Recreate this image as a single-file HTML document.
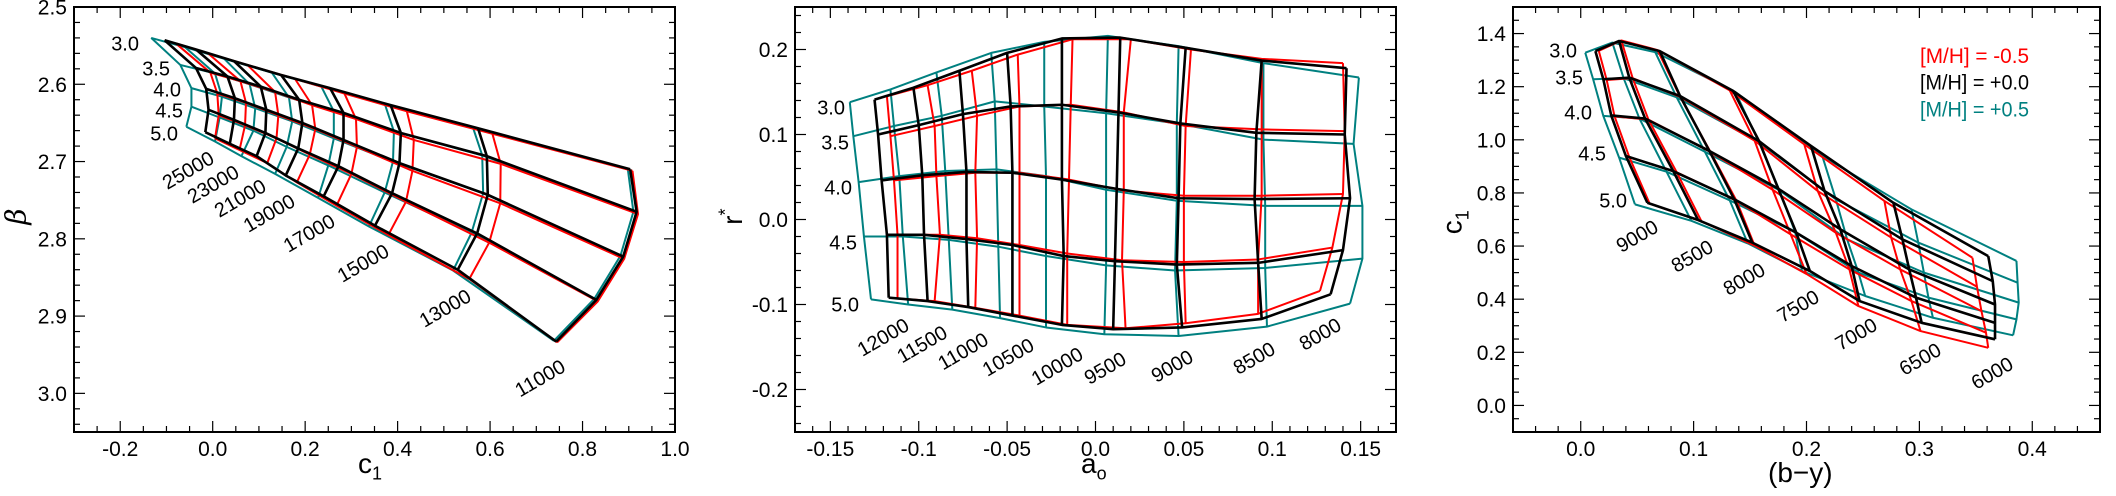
<!DOCTYPE html>
<html><head><meta charset="utf-8"><style>
html,body{margin:0;padding:0;background:#fff;}
svg{display:block;font-family:"Liberation Sans",sans-serif;}
</style></head><body>
<svg id="chart" width="2116" height="496" viewBox="0 0 2116 496" xmlns="http://www.w3.org/2000/svg"></svg>
<script>
// ---------- Panel 1 data (c1 vs beta) ----------
const P1_LOGG = ["3.0","3.5","4.0","4.5","5.0"];
const P1_TEFF = ["25000","23000","21000","19000","17000","15000","13000","11000"];
const P1_BLACK = [
 [[-0.104,2.543],[-0.036,2.555],[0.046,2.570],[0.148,2.588],[0.254,2.605],[0.385,2.627],[0.574,2.657],[0.903,2.710]],
 [[-0.036,2.579],[0.032,2.590],[0.104,2.603],[0.187,2.620],[0.283,2.637],[0.407,2.663],[0.593,2.693],[0.917,2.765]],
 [[-0.014,2.606],[0.048,2.618],[0.116,2.633],[0.194,2.650],[0.283,2.672],[0.404,2.702],[0.595,2.743],[0.888,2.823]],
 [[-0.009,2.633],[0.046,2.646],[0.114,2.663],[0.185,2.683],[0.272,2.706],[0.388,2.741],[0.572,2.793],[0.830,2.879]],
 [[-0.016,2.662],[0.037,2.677],[0.095,2.693],[0.158,2.718],[0.240,2.745],[0.351,2.783],[0.530,2.840],[0.743,2.933]]];
const P1_RED = [
 [[-0.080,2.547],[-0.010,2.560],[0.075,2.575],[0.178,2.593],[0.285,2.612],[0.420,2.635],[0.605,2.664],[0.908,2.712]],
 [[-0.005,2.585],[0.060,2.596],[0.135,2.610],[0.215,2.627],[0.310,2.645],[0.435,2.672],[0.623,2.703],[0.920,2.768]],
 [[0.010,2.612],[0.072,2.624],[0.142,2.640],[0.222,2.658],[0.312,2.681],[0.432,2.712],[0.622,2.754],[0.890,2.826]],
 [[0.013,2.640],[0.070,2.653],[0.138,2.670],[0.210,2.691],[0.300,2.716],[0.418,2.752],[0.598,2.805],[0.833,2.881]],
 [[0.005,2.670],[0.058,2.685],[0.118,2.702],[0.182,2.727],[0.268,2.757],[0.380,2.795],[0.555,2.852],[0.745,2.934]]];
const P1_TEAL = [
 [[-0.133,2.540],[-0.060,2.552],[0.025,2.567],[0.128,2.585],[0.235,2.603],[0.372,2.625],[0.563,2.656],[0.898,2.710]],
 [[-0.070,2.575],[0.005,2.586],[0.080,2.600],[0.165,2.617],[0.262,2.635],[0.392,2.661],[0.583,2.692],[0.910,2.765]],
 [[-0.046,2.605],[0.020,2.616],[0.092,2.631],[0.172,2.648],[0.262,2.670],[0.390,2.700],[0.585,2.741],[0.882,2.822]],
 [[-0.046,2.629],[0.015,2.643],[0.088,2.660],[0.160,2.681],[0.250,2.705],[0.372,2.740],[0.560,2.792],[0.825,2.878]],
 [[-0.057,2.655],[0.005,2.674],[0.062,2.693],[0.135,2.716],[0.228,2.747],[0.338,2.784],[0.520,2.841],[0.738,2.932]]];
const P1_XTICKS = ["-0.2","0.0","0.2","0.4","0.6","0.8","1.0"];
const P1_YTICKS = ["2.5","2.6","2.7","2.8","2.9","3.0"];

// ---------- Panel 2 data (a0 vs r*) ----------
const P2_LOGG = ["3.0","3.5","4.0","4.5","5.0"];
const P2_TEFF = ["12000","11500","11000","10500","10000","9500","9000","8500","8000"];
const P2_BLACK = [
 [[-0.125,0.141],[-0.103,0.155],[-0.077,0.175],[-0.050,0.196],[-0.019,0.213],[0.014,0.214],[0.051,0.202],[0.094,0.187],[0.142,0.178]],
 [[-0.123,0.100],[-0.100,0.111],[-0.075,0.124],[-0.048,0.133],[-0.019,0.135],[0.013,0.126],[0.048,0.113],[0.091,0.102],[0.141,0.100]],
 [[-0.121,0.046],[-0.098,0.052],[-0.073,0.056],[-0.047,0.055],[-0.019,0.047],[0.012,0.036],[0.047,0.025],[0.090,0.024],[0.144,0.025]],
 [[-0.118,-0.018],[-0.097,-0.018],[-0.073,-0.023],[-0.047,-0.030],[-0.018,-0.043],[0.011,-0.049],[0.046,-0.053],[0.092,-0.051],[0.140,-0.036]],
 [[-0.117,-0.092],[-0.095,-0.096],[-0.072,-0.103],[-0.047,-0.113],[-0.019,-0.124],[0.010,-0.129],[0.049,-0.127],[0.094,-0.117],[0.133,-0.088]]];
const P2_RED = [
 [[-0.118,0.145],[-0.095,0.158],[-0.070,0.175],[-0.044,0.194],[-0.013,0.212],[0.020,0.212],[0.054,0.200],[0.094,0.189],[0.140,0.184]],
 [[-0.116,0.098],[-0.091,0.110],[-0.067,0.122],[-0.043,0.133],[-0.014,0.135],[0.016,0.126],[0.051,0.110],[0.094,0.106],[0.141,0.104]],
 [[-0.114,0.046],[-0.090,0.051],[-0.068,0.055],[-0.043,0.055],[-0.015,0.047],[0.016,0.034],[0.050,0.028],[0.094,0.028],[0.140,0.030]],
 [[-0.112,-0.018],[-0.088,-0.018],[-0.067,-0.022],[-0.043,-0.030],[-0.016,-0.040],[0.015,-0.048],[0.050,-0.050],[0.092,-0.047],[0.134,-0.033]],
 [[-0.112,-0.093],[-0.091,-0.096],[-0.068,-0.104],[-0.043,-0.113],[-0.016,-0.124],[0.017,-0.128],[0.051,-0.122],[0.092,-0.111],[0.127,-0.084]]];
const P2_TEAL = [
 [[-0.139,0.138],[-0.116,0.153],[-0.090,0.173],[-0.059,0.196],[-0.029,0.209],[0.007,0.216],[0.047,0.204],[0.095,0.184],[0.149,0.167]],
 [[-0.137,0.098],[-0.114,0.110],[-0.087,0.122],[-0.057,0.139],[-0.029,0.133],[0.006,0.125],[0.046,0.113],[0.095,0.094],[0.146,0.089]],
 [[-0.134,0.044],[-0.111,0.051],[-0.085,0.057],[-0.056,0.059],[-0.028,0.051],[0.006,0.035],[0.046,0.022],[0.096,0.016],[0.151,0.016]],
 [[-0.131,-0.020],[-0.109,-0.020],[-0.083,-0.024],[-0.055,-0.032],[-0.028,-0.043],[0.006,-0.054],[0.045,-0.060],[0.096,-0.057],[0.151,-0.046]],
 [[-0.127,-0.094],[-0.106,-0.100],[-0.081,-0.106],[-0.054,-0.116],[-0.028,-0.127],[0.005,-0.135],[0.047,-0.137],[0.097,-0.126],[0.144,-0.099]]];
const P2_XTICKS = ["-0.15","-0.1","-0.05","0.0","0.05","0.1","0.15"];
const P2_YTICKS = ["0.2","0.1","0.0","-0.1","-0.2"];

// ---------- Panel 3 data ((b-y) vs c1) ----------
const P3_LOGG = ["3.0","3.5","4.0","4.5","5.0"];
const P3_TEFF = ["9000","8500","8000","7500","7000","6500","6000"];
const P3_BLACK = [
 [[0.013,1.334],[0.034,1.372],[0.070,1.334],[0.135,1.184],[0.204,0.977],[0.277,0.763],[0.361,0.562]],
 [[0.020,1.228],[0.043,1.234],[0.088,1.165],[0.158,0.995],[0.216,0.807],[0.285,0.625],[0.365,0.468]],
 [[0.027,1.092],[0.057,1.080],[0.114,0.958],[0.175,0.816],[0.230,0.663],[0.291,0.512],[0.367,0.380]],
 [[0.040,0.939],[0.082,0.882],[0.136,0.776],[0.191,0.650],[0.240,0.525],[0.297,0.406],[0.367,0.311]],
 [[0.059,0.763],[0.104,0.698],[0.152,0.613],[0.203,0.506],[0.247,0.393],[0.302,0.311],[0.367,0.249]]];
const P3_RED = [
 [[0.016,1.335],[0.036,1.374],[0.068,1.338],[0.132,1.186],[0.198,0.983],[0.269,0.770],[0.347,0.556]],
 [[0.023,1.225],[0.046,1.232],[0.088,1.162],[0.154,0.997],[0.210,0.807],[0.275,0.632],[0.351,0.447]],
 [[0.030,1.088],[0.060,1.076],[0.115,0.954],[0.170,0.812],[0.226,0.650],[0.283,0.512],[0.355,0.355]],
 [[0.043,0.935],[0.085,0.878],[0.138,0.770],[0.186,0.644],[0.238,0.512],[0.293,0.393],[0.359,0.274]],
 [[0.061,0.760],[0.107,0.693],[0.154,0.602],[0.200,0.495],[0.246,0.374],[0.301,0.280],[0.361,0.217]]];
const P3_TEAL = [
 [[0.004,1.328],[0.028,1.366],[0.066,1.330],[0.137,1.180],[0.214,0.939],[0.293,0.738],[0.386,0.544]],
 [[0.011,1.228],[0.038,1.232],[0.085,1.160],[0.158,0.990],[0.226,0.776],[0.299,0.613],[0.387,0.462]],
 [[0.020,1.090],[0.052,1.080],[0.110,0.955],[0.176,0.810],[0.236,0.625],[0.304,0.500],[0.388,0.387]],
 [[0.034,0.933],[0.076,0.880],[0.132,0.772],[0.190,0.652],[0.246,0.500],[0.308,0.406],[0.386,0.324]],
 [[0.048,0.757],[0.098,0.695],[0.148,0.610],[0.196,0.506],[0.252,0.412],[0.312,0.330],[0.383,0.264]]];
const P3_XTICKS = ["0.0","0.1","0.2","0.3","0.4"];
const P3_YTICKS = ["0.0","0.2","0.4","0.6","0.8","1.0","1.2","1.4"];
const LEGEND_LABELS = ["[M/H] = -0.5","[M/H] = +0.0","[M/H] = +0.5"];

const NS = "http://www.w3.org/2000/svg";
const svg = document.getElementById('chart');
const RED = "#ff0000", BLACK = "#000000", TEAL = "#008080";
function mk(tag, attrs, parent){
  const e = document.createElementNS(NS, tag);
  for (const k in attrs) e.setAttribute(k, attrs[k]);
  (parent || svg).appendChild(e);
  return e;
}
function scale(d0, d1, r0, r1){ return v => r0 + (v - d0) * (r1 - r0) / (d1 - d0); }

function drawPanel(cfg){
  const g = mk('g', {});
  
  
  const sx = scale(cfg.xd[0], cfg.xd[1], cfg.px0, cfg.px1);
  const sy = scale(cfg.yd[0], cfg.yd[1], cfg.py0, cfg.py1);
  const minor = mk('g', {stroke:'#000','stroke-width':1.2}, g);
  
  
  for (let i = Math.ceil(Math.min(...cfg.xd)/cfg.xminor - 1e-6); i*cfg.xminor <= Math.max(...cfg.xd) + 1e-9; i++){
    const v = i*cfg.xminor, X = sx(v);
    if (X < cfg.px0 + 1 || X > cfg.px1 - 1) continue;
    const major = Math.abs(v/cfg.xmajor - Math.round(v/cfg.xmajor)) < 1e-6;
    const L = major ? 11 : 6;
    mk('line', {x1:X, y1:cfg.py1, x2:X, y2:cfg.py1 - L}, minor);
    mk('line', {x1:X, y1:cfg.py0, x2:X, y2:cfg.py0 + L}, minor);
  }
  const ylo = Math.min(...cfg.yd), yhi = Math.max(...cfg.yd);
  for (let i = Math.ceil(ylo/cfg.yminor - 1e-6); i*cfg.yminor <= yhi + 1e-9; i++){
    const v = i*cfg.yminor, Y = sy(v);
    if (Y < cfg.py0 + 1 || Y > cfg.py1 - 1) continue;
    const major = Math.abs(v/cfg.ymajor - Math.round(v/cfg.ymajor)) < 1e-6;
    const L = major ? 11 : 6;
    mk('line', {x1:cfg.px0, y1:Y, x2:cfg.px0 + L, y2:Y}, minor);
    mk('line', {x1:cfg.px1, y1:Y, x2:cfg.px1 - L, y2:Y}, minor);
  }
  const series = [[cfg.teal, TEAL, 'mh-plus05', 2], [cfg.red, RED, 'mh-minus05', 2], [cfg.black, BLACK, 'mh-zero', 2.6]];
  series.forEach(s => {
    const grid = s[0];
    const sg = mk('g', {fill:'none', stroke:s[1], 'stroke-width':s[3], 'stroke-linejoin':'round'}, g);
    
    
    grid.forEach((row, ri) => {
      const pl = mk('polyline', {points: row.map(p => sx(p[0]) + ',' + sy(p[1])).join(' ')}, sg);
      
      
    });
    for (let c = 0; c < grid[0].length; c++){
      const pl = mk('polyline', {points: grid.map(r => sx(r[c][0]) + ',' + sy(r[c][1])).join(' ')}, sg);
      
      
    }
  });
  const fr = mk('rect', {x:cfg.px0, y:cfg.py0, width:cfg.px1 - cfg.px0, height:cfg.py1 - cfg.py0, fill:'none', stroke:'#000', 'stroke-width':2}, g);
  
  
  cfg.xticks.forEach(t => {
    const tx = mk('text', {x:sx(parseFloat(t)), y:cfg.py1 + 24, 'font-size':21, 'text-anchor':'middle'}, g);
    tx.textContent = t;
    
    
  });
  cfg.yticks.forEach(t => {
    const tx = mk('text', {x:cfg.px0 - 7, y:sy(parseFloat(t)) + 7.5, 'font-size':21, 'text-anchor':'end'}, g);
    tx.textContent = t;
    
    
  });
  cfg.loggPos.forEach((p, i) => {
    const tx = mk('text', {x:p[0], y:p[1] + 7.5, 'font-size':20, 'text-anchor':'end'}, g);
    tx.textContent = cfg.logg[i];
    
    
  });
  cfg.teffPos.forEach((p, i) => {
    const tx = mk('text', {x:p[0], y:p[1] + 7, 'font-size':20, 'text-anchor':'middle', transform:'rotate(-30 ' + p[0] + ' ' + p[1] + ')'}, g);
    tx.textContent = cfg.teff[i];
    
    
  });
  return g;
}

drawPanel({name:'panel-beta-c1', px0:74, px1:675, py0:7, py1:432, xd:[-0.3,1.0], yd:[2.5,3.05],
  xmajor:0.2, xminor:0.05, ymajor:0.1, yminor:0.02, xticks:P1_XTICKS, yticks:P1_YTICKS,
  black:P1_BLACK, red:P1_RED, teal:P1_TEAL, logg:P1_LOGG, teff:P1_TEFF,
  loggPos:[[139,43],[170,68],[181,89],[183,110],[178,133]],
  teffPos:[[188,170],[213,184],[240,198],[269,213],[309,233],[363,263],[445,308],[540,378]]});
drawPanel({name:'panel-rstar-a0', px0:795, px1:1396, py0:7, py1:432, xd:[-0.17,0.17], yd:[0.25,-0.25],
  xmajor:0.05, xminor:0.01, ymajor:0.1, yminor:0.02, xticks:P2_XTICKS, yticks:P2_YTICKS,
  black:P2_BLACK, red:P2_RED, teal:P2_TEAL, logg:P2_LOGG, teff:P2_TEFF,
  loggPos:[[845,107],[849,142],[852,187],[857,242],[859,304]],
  teffPos:[[883,337],[922,344],[963,351],[1008,357],[1057,366],[1105,368],[1172,366],[1254,358],[1320,334]]});
drawPanel({name:'panel-c1-by', px0:1513, px1:2100, py0:7, py1:432, xd:[-0.06,0.46], yd:[1.5,-0.1],
  xmajor:0.1, xminor:0.02, ymajor:0.2, yminor:0.05, xticks:P3_XTICKS, yticks:P3_YTICKS,
  black:P3_BLACK, red:P3_RED, teal:P3_TEAL, logg:P3_LOGG, teff:P3_TEFF,
  loggPos:[[1577,50],[1583,77],[1592,112],[1606,153],[1627,200]],
  teffPos:[[1637,236],[1692,256],[1744,279],[1798,306],[1856,334],[1920,359],[1992,373]]});

const legColors = [RED, BLACK, TEAL];
const lg = mk('g', {});


LEGEND_LABELS.forEach((t, i) => {
  const tx = mk('text', {x:1920, y:63 + i*26.7, 'font-size':21, fill:legColors[i], textLength:109, lengthAdjust:'spacingAndGlyphs'}, lg);
  tx.textContent = t;
  
  
});
</script>
<div style="position:absolute;left:0;top:0;width:2116px;height:496px;pointer-events:none;font-family:'Liberation Sans',sans-serif;">
  <div style="position:absolute;left:358px;top:448px;font-size:28px;">c<sub style="font-size:18px">1</sub></div>
  <div style="position:absolute;left:8px;top:200px;font-size:28px;font-style:italic;transform:rotate(-90deg);font-family:'DejaVu Serif',serif;">β</div>
  <div style="position:absolute;left:1081px;top:448px;font-size:28px;">a<sub style="font-size:18px">o</sub></div>
  <div style="position:absolute;left:724px;top:200px;font-size:28px;transform:rotate(-90deg);">r<sup style="font-size:18px">*</sup></div>
  <div style="position:absolute;left:1768px;top:457px;font-size:28px;">(b−y)</div>
  <div style="position:absolute;left:1443px;top:204px;font-size:28px;transform:rotate(-90deg);">c<sub style="font-size:18px">1</sub></div>
</div>
</body></html>
